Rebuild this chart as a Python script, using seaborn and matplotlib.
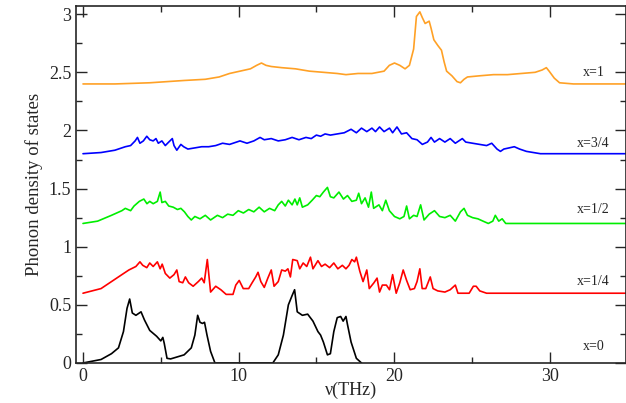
import numpy as np
import pandas as pd
import seaborn as sns
import matplotlib.pyplot as plt
from matplotlib.ticker import MultipleLocator

# phonon DOS, each curve already offset by 0.6
nu_x0 = [0, 1.16, 1.83, 2.28, 2.6, 2.83, 3.0, 3.17, 3.4, 3.73, 3.95, 4.29, 4.73, 5.0, 5.13, 5.22,
         5.4, 5.63, 6.5, 6.96, 7.19, 7.37, 7.52, 7.68, 7.81, 7.97, 8.2, 8.48, 12.2, 12.55, 12.88,
         13.2, 13.44, 13.6, 13.77, 14.1, 14.44, 14.78, 15.1, 15.27, 15.45, 15.71, 15.9, 16.12,
         16.34, 16.56, 16.72, 16.9, 17.0, 17.23, 17.57, 17.9]
dos_x0 = [0, 0.03, 0.08, 0.13, 0.27, 0.47, 0.55, 0.43, 0.41, 0.44, 0.37, 0.28, 0.23, 0.19, 0.22, 0.17,
          0.04, 0.035, 0.07, 0.13, 0.24, 0.41, 0.35, 0.34, 0.35, 0.24, 0.10, 0, 0, 0.07, 0.24,
          0.50, 0.58, 0.63, 0.44, 0.41, 0.42, 0.36, 0.27, 0.24, 0.18, 0.07, 0.08, 0.27,
          0.39, 0.40, 0.36, 0.40, 0.33, 0.18, 0.04, 0]

nu_x14 = [0, 1.16, 1.83, 2.5, 2.95, 3.4, 3.66, 3.84, 4.1, 4.29, 4.51, 4.78, 4.96, 5.09, 5.29, 5.58,
          5.85, 6.03, 6.18, 6.41, 6.58, 6.79, 7.08, 7.41, 7.63, 7.79, 7.99, 8.2, 8.53, 8.86, 9.2,
          9.64, 9.82, 10.04, 10.3, 10.65, 10.87, 11.1, 11.25, 11.43, 11.65, 11.88, 12.1, 12.28,
          12.55, 12.77, 13.0, 13.17, 13.33, 13.48, 13.77, 13.93, 14.15, 14.38, 14.62, 14.78,
          15.1, 15.33, 15.56, 15.85, 16.12, 16.38, 16.67, 16.9, 17.1, 17.28, 17.46, 17.57,
          17.79, 18.0, 18.24, 18.4, 18.7, 18.9, 19.06, 19.24, 19.5, 19.7, 19.9, 20.13, 20.36,
          20.58, 20.8, 21.03, 21.3, 21.47, 21.65, 21.8, 22.03, 22.32, 22.5, 22.8, 23.26, 23.6,
          23.93, 24.1, 24.82, 25.09, 25.27, 25.5, 25.94, 35.0]
dos_x14 = [0.60, 0.64, 0.70, 0.76, 0.80, 0.83, 0.87, 0.84, 0.82, 0.86, 0.83, 0.87, 0.81, 0.85, 0.77, 0.73,
           0.76, 0.80, 0.70, 0.69, 0.74, 0.69, 0.66, 0.70, 0.73, 0.69, 0.89, 0.61, 0.66, 0.63, 0.59,
           0.59, 0.67, 0.71, 0.64, 0.64, 0.69, 0.74, 0.78, 0.70, 0.65, 0.73, 0.80, 0.66,
           0.70, 0.80, 0.79, 0.81, 0.74, 0.89, 0.88, 0.81, 0.86, 0.83, 0.91, 0.81,
           0.88, 0.83, 0.85, 0.82, 0.86, 0.81, 0.84, 0.81, 0.84, 0.89, 0.87, 0.91,
           0.79, 0.70, 0.80, 0.64, 0.69, 0.73, 0.61, 0.67, 0.67, 0.63, 0.76, 0.60, 0.69,
           0.80, 0.71, 0.63, 0.64, 0.70, 0.81, 0.64, 0.64, 0.74, 0.64, 0.62, 0.61, 0.63,
           0.67, 0.60, 0.60, 0.66, 0.66, 0.62, 0.60, 0.60]

nu_x12 = [0, 0.94, 1.83, 2.5, 2.72, 3.06, 3.28, 3.62, 3.91, 4.11, 4.29, 4.51, 4.78, 4.96, 5.07, 5.29,
          5.51, 5.8, 6.07, 6.29, 6.52, 6.74, 6.96, 7.19, 7.52, 7.86, 8.2, 8.64, 8.97, 9.3, 9.64,
          9.98, 10.31, 10.65, 10.98, 11.32, 11.65, 11.99, 12.32, 12.55, 12.77, 13.0, 13.2, 13.44,
          13.62, 13.77, 13.93, 14.1, 14.44, 14.73, 15.0, 15.22, 15.45, 15.71, 15.9, 16.12, 16.45,
          16.74, 17.0, 17.28, 17.57, 17.72, 17.9, 18.13, 18.35, 18.53, 18.68, 19.02, 19.24,
          19.46, 19.69, 20.02, 20.36, 20.63, 20.8, 20.98, 21.25, 21.47, 21.7, 21.92, 22.25,
          22.59, 22.92, 23.26, 23.6, 23.93, 24.26, 24.49, 24.71, 25.04, 25.38, 25.71, 26.05,
          26.34, 26.5, 26.72, 26.94, 27.17, 35.0]
dos_x12 = [1.20, 1.22, 1.27, 1.31, 1.33, 1.31, 1.35, 1.39, 1.41, 1.37, 1.39, 1.37, 1.39, 1.47, 1.38, 1.39,
           1.35, 1.34, 1.32, 1.33, 1.30, 1.26, 1.23, 1.26, 1.24, 1.27, 1.23, 1.27, 1.25, 1.28, 1.27,
           1.31, 1.29, 1.32, 1.30, 1.34, 1.30, 1.33, 1.31, 1.36, 1.39, 1.35, 1.40, 1.36,
           1.41, 1.36, 1.42, 1.34, 1.36, 1.40, 1.44, 1.43, 1.47, 1.51, 1.43, 1.42, 1.47,
           1.41, 1.44, 1.39, 1.40, 1.46, 1.37, 1.42, 1.34, 1.47, 1.33, 1.36, 1.31,
           1.40, 1.31, 1.26, 1.24, 1.26, 1.35, 1.24, 1.27, 1.26, 1.36, 1.23, 1.28,
           1.31, 1.26, 1.25, 1.27, 1.22, 1.30, 1.33, 1.27, 1.25, 1.24, 1.22, 1.20,
           1.22, 1.27, 1.22, 1.24, 1.20, 1.20]

nu_x34 = [0, 1.16, 2.05, 2.72, 3.06, 3.35, 3.5, 3.66, 3.88, 4.1, 4.29, 4.51, 4.69, 4.84, 5.07, 5.29,
          5.51, 5.74, 5.85, 6.03, 6.29, 6.47, 6.74, 7.19, 7.63, 8.08, 8.53, 8.97, 9.42, 10.09,
          10.54, 10.98, 11.38, 11.65, 12.1, 12.55, 13.0, 13.44, 13.88, 14.33, 14.67, 15.0, 15.27,
          15.56, 15.9, 16.34, 16.79, 17.23, 17.57, 17.9, 18.24, 18.57, 18.8, 19.06, 19.35, 19.7,
          19.9, 20.18, 20.47, 20.8, 21.14, 21.47, 21.81, 22.14, 22.37, 22.59, 22.92, 23.26, 23.6,
          23.93, 24.38, 24.6, 25.04, 25.49, 25.94, 26.27, 26.61, 26.83, 27.05, 27.39, 27.72,
          28.06, 28.5, 28.95, 29.4, 35.0]
dos_x34 = [1.80, 1.81, 1.83, 1.86, 1.87, 1.91, 1.94, 1.89, 1.91, 1.95, 1.92, 1.91, 1.93, 1.89, 1.91, 1.87,
           1.90, 1.93, 1.87, 1.83, 1.88, 1.86, 1.84, 1.85, 1.86, 1.86, 1.87, 1.89, 1.88, 1.91,
           1.89, 1.91, 1.94, 1.92, 1.93, 1.91, 1.92, 1.94, 1.92, 1.94, 1.93, 1.96, 1.95,
           1.97, 1.96, 1.97, 1.98, 2.01, 1.98, 2.02, 1.99, 2.02, 1.99, 2.03, 1.99, 2.02,
           1.98, 2.03, 1.97, 1.98, 1.93, 1.92, 1.88, 1.90, 1.94, 1.90, 1.93, 1.90, 1.93,
           1.89, 1.93, 1.90, 1.89, 1.88, 1.87, 1.89, 1.84, 1.82, 1.84, 1.85, 1.86,
           1.84, 1.82, 1.81, 1.80, 1.80]

nu_x1 = [0, 2.05, 4.29, 6.52, 7.86, 8.75, 9.42, 10.09, 10.76, 11.16, 11.47, 11.76, 12.1, 12.77, 13.66,
         14.55, 15.45, 16.34, 16.9, 17.68, 18.57, 19.35, 19.69, 20.02, 20.36, 20.7, 20.98, 21.25,
         21.43, 21.65, 21.81, 21.99, 22.25, 22.37, 22.55, 22.81, 23.04, 23.21, 23.37, 23.71, 24.04,
         24.26, 24.49, 24.71, 25.49, 26.38, 27.28, 28.17, 29.06, 29.51, 29.78, 29.96, 30.29,
         30.63, 31.52, 35.0]
dos_x1 = [2.40, 2.40, 2.41, 2.43, 2.44, 2.46, 2.49, 2.51, 2.53, 2.56, 2.58, 2.56, 2.55, 2.54, 2.53,
          2.51, 2.50, 2.49, 2.48, 2.49, 2.49, 2.51, 2.56, 2.58, 2.56, 2.53, 2.56, 2.70,
          2.98, 3.02, 2.97, 2.92, 2.94, 2.88, 2.78, 2.73, 2.69, 2.59, 2.51, 2.47, 2.42,
          2.41, 2.44, 2.46, 2.47, 2.48, 2.48, 2.49, 2.50, 2.52, 2.54, 2.51, 2.45,
          2.41, 2.40, 2.40]

labels = ['x=0', 'x=1/4', 'x=1/2', 'x=3/4', 'x=1']
colors = ['black', '#ff0000', '#00ee00', '#0000ff', '#ffa126']
label_y = [0.14, 0.70, 1.32, 1.89, 2.50]

series = [(nu_x0, dos_x0), (nu_x14, dos_x14), (nu_x12, dos_x12), (nu_x34, dos_x34), (nu_x1, dos_x1)]

sns.set_style('ticks')
plt.rcParams['font.family'] = ['Liberation Serif', 'DejaVu Serif']

fig = plt.figure(figsize=(6.26, 4.03), dpi=100)
ax = fig.add_axes([0.1214, 0.0993, 0.8786, 0.8857])

for (nu, dos), c in zip(series, colors):
    df = pd.DataFrame({'nu': nu, 'dos': dos})
    sns.lineplot(data=df, x='nu', y='dos', sort=False, estimator=None, color=c, lw=1.2, ax=ax)

for lab, yy in zip(labels, label_y):
    ax.text(32.8, yy, lab, fontsize=10, ha='center', va='center')

ax.set_xlim(-0.45, 34.9)
ax.set_ylim(0, 3.07)
ax.xaxis.set_minor_locator(MultipleLocator(5))
ax.yaxis.set_minor_locator(MultipleLocator(0.25))
ax.set_xticks([0, 10, 20, 30])
ax.set_yticks([0, 0.5, 1, 1.5, 2, 2.5, 3])
ax.set_xticklabels(['0', '10', '20', '30'])
ax.set_yticklabels(['0', '0.5', '1', '1.5', '2', '2.5', '3'])
ax.tick_params(which='both', direction='in', top=True, right=True, labelsize=13, width=1)
ax.tick_params(which='major', length=8)
ax.tick_params(which='minor', length=4)
for s in ax.spines.values():
    s.set_linewidth(1.2)

ax.set_xlabel('ν(THz)', fontsize=13, labelpad=-2)
ax.set_ylabel('Phonon density of states', fontsize=13.5, labelpad=4)

fig.savefig('out.png', dpi=100)
